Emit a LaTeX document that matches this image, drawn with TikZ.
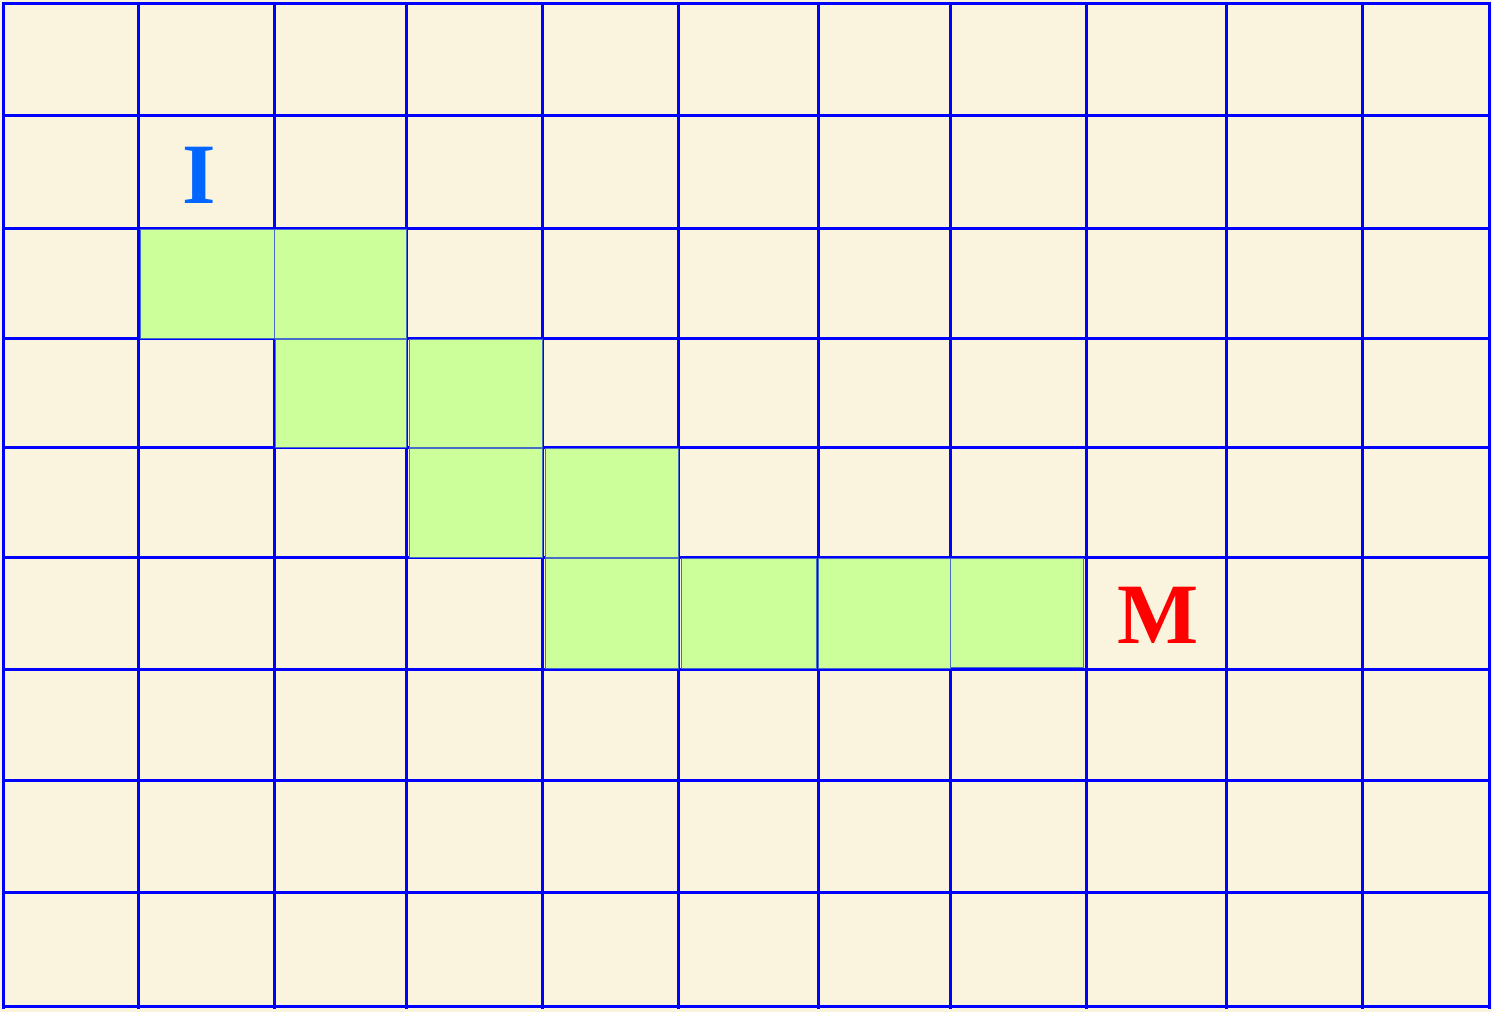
\documentclass[tikz,border=0pt]{standalone}
\usepackage{fontspec}
\setmainfont{Liberation Serif}
\usetikzlibrary{positioning}
\definecolor{cream}{RGB}{250,244,222}
\definecolor{gridblue}{RGB}{0,0,255}
\definecolor{cellgreen}{RGB}{204,255,153}
\definecolor{celledge}{RGB}{70,110,200}
\definecolor{labelblue}{RGB}{0,102,255}
\definecolor{labelred}{RGB}{255,0,0}
\tikzset{
  gridline/.style={gridblue, line width=3pt},
  cell/.style={fill=cellgreen, draw=celledge, line width=1pt},
  letter/.style={font=\bfseries\fontsize{86}{86}\selectfont, inner sep=0pt}
}

\begin{document}
\begin{tikzpicture}[x=1pt,y=-1pt]
  \useasboundingbox (0,0) rectangle (1492,1012);
  \fill[cream] (0,0) rectangle (1492,1012);
  % vertical lines
  \foreach \gx in {3,138,274,406,542,678,818,950,1086,1226,1362,1489}
    \draw[gridline] (\gx,2) -- (\gx,1009);
  % horizontal lines
  \foreach \gy in {3,115,228,338,447,557,669,780,892,1006}
    \draw[gridline] (2,\gy) -- (1490,\gy);
  % green cells
  \foreach \xa/\ya/\xb/\yb in {140/229/274/338, 274/229/406/338,
      275/339/406/447, 409/339/542/447,
      409/448/542/557, 545/448/678/557,
      545/558/678/668, 681/558/816/668, 818/558/950/668, 950/558/1083/667}
    \draw[cell] (\xa,\ya) rectangle (\xb,\yb);
  \node[letter, labelblue] (start) at (199,175) {I};
  \node[letter, labelred] (goal) at (1158,615) {M};
\end{tikzpicture}
\end{document}
